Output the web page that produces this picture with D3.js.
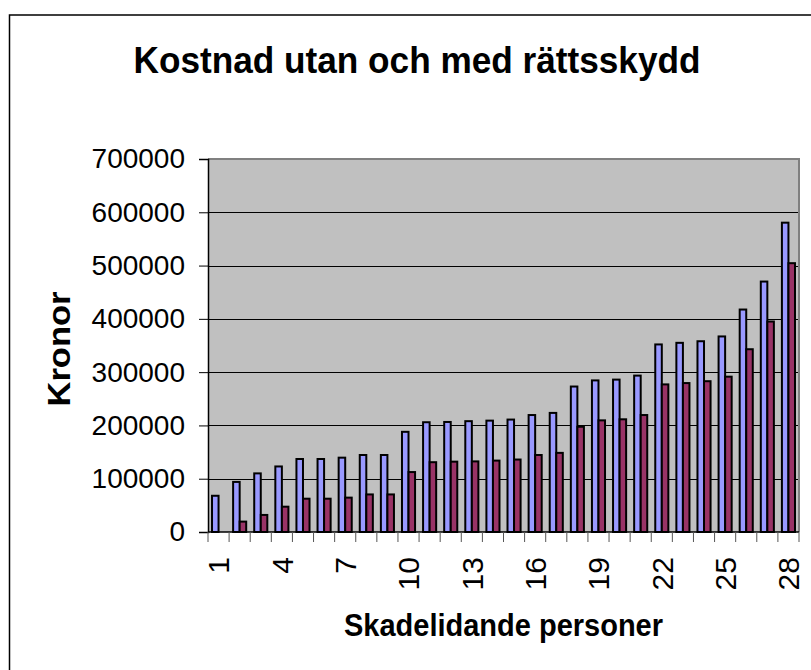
<!DOCTYPE html>
<html lang="sv">
<head>
<meta charset="UTF-8">
<title>Kostnad utan och med rättsskydd</title>
<style>
    body { margin: 0; background: #fff; }
    svg { display: block; font-family: "Liberation Sans", Arial, sans-serif; }
    .grid { stroke: #000; stroke-width: 1; }
    .tick-label { font-size: 28px; fill: #000; }
</style>
</head>
<body>
<svg id="chart" width="811" height="670"></svg>
<script src="https://d3js.org/d3.v7.min.js"></script>
<script>
    // skadelidande personer 1..28
    const persons = d3.range(1, 29);
    // kostnad utan rättsskydd (blå)
    const utan = [68000, 94000, 110000, 123000, 137000, 137000, 139500, 144500, 144500, 188000,
        206000, 206500, 208000, 209000, 211000, 219500, 223500, 273000, 284500, 286000,
        293500, 352000, 355000, 358000, 367000, 417500, 470000, 580500];
    // kostnad med rättsskydd (röd)
    const med = [0, 19500, 32000, 47500, 62500, 62500, 64500, 70500, 70500, 112500,
        131000, 132000, 132500, 134000, 136000, 144500, 148500, 197500, 209500, 211500,
        219500, 277000, 279500, 283000, 291500, 343000, 395000, 504500];
    const yTicks = [0, 100000, 200000, 300000, 400000, 500000, 600000, 700000];
    const xLabels = [1, 4, 7, 10, 13, 16, 19, 22, 25, 28];
    const series = [
        { key: "utan", values: utan, color: "#9999ff" },
        { key: "med", values: med, color: "#993366" }
    ];

    const svg = d3.select("#chart");
    const plot = { left: 208, right: 799, top: 159, bottom: 532 };

    // outer chart border
    svg.append("rect")
        .attr("x", 9.5).attr("y", 15)
        .attr("width", 900).attr("height", 800)
        .attr("fill", "#fff")
        .attr("stroke", "#000")
        .attr("stroke-width", 1.5);

    const x = d3.scaleBand()
        .domain(persons)
        .range([plot.left, plot.right])
        .padding(0);

    const xInner = d3.scaleBand()
        .domain(series.map(s => s.key))
        .range([x.bandwidth() * 0.19, x.bandwidth() * 0.81]);

    const y = d3.scaleLinear()
        .domain([0, 700000])
        .range([plot.bottom, plot.top]);

    // plot area
    svg.append("rect")
        .attr("x", plot.left).attr("y", plot.top)
        .attr("width", plot.right - plot.left)
        .attr("height", plot.bottom - plot.top)
        .attr("fill", "#c0c0c0");

    svg.append("g")
        .selectAll("line")
        .data(yTicks.slice(1, -1))
        .enter().append("line")
        .attr("class", "grid")
        .attr("x1", plot.left).attr("x2", plot.right)
        .attr("y1", d => Math.round(y(d)) + 0.5)
        .attr("y2", d => Math.round(y(d)) + 0.5);

    // gray frame top and right
    svg.append("path")
        .attr("d", `M${plot.left},${plot.top}H${plot.right}V${plot.bottom}`)
        .attr("fill", "none")
        .attr("stroke", "#808080")
        .attr("stroke-width", 2);

    // bars
    series.forEach(s => {
        svg.append("g")
            .selectAll("rect")
            .data(s.values)
            .enter().append("rect")
            .attr("x", (d, i) => x(persons[i]) + xInner(s.key))
            .attr("y", d => y(d))
            .attr("width", xInner.bandwidth())
            .attr("height", d => y(0) - y(d))
            .attr("fill", s.color)
            .attr("stroke", "#000")
            .attr("stroke-width", 2);
    });

    // y axis
    const yAxis = svg.append("g")
        .attr("transform", `translate(${plot.left},0)`)
        .call(d3.axisLeft(y).tickValues(yTicks).tickSize(9).tickPadding(14).tickFormat(d3.format("d")));
    yAxis.select(".domain").attr("stroke", "#000").attr("stroke-width", 1.5);
    yAxis.selectAll(".tick line").attr("stroke", "#000");
    yAxis.selectAll(".tick text")
        .attr("class", "tick-label")
        .attr("font-family", null)
        .attr("font-size", null);

    // x axis: ticks on category boundaries
    svg.append("line")
        .attr("x1", plot.left).attr("x2", plot.right)
        .attr("y1", plot.bottom).attr("y2", plot.bottom)
        .attr("stroke", "#000").attr("stroke-width", 1.5);

    svg.append("g")
        .selectAll("line")
        .data(d3.range(persons.length + 1))
        .enter().append("line")
        .attr("x1", i => plot.left + i * x.step())
        .attr("x2", i => plot.left + i * x.step())
        .attr("y1", plot.bottom)
        .attr("y2", plot.bottom + 10)
        .attr("stroke", "#555");

    svg.append("g")
        .selectAll("text")
        .data(xLabels)
        .enter().append("text")
        .attr("transform", d => `translate(${x(d) + x.bandwidth() / 2},557) rotate(-90)`)
        .attr("text-anchor", "end")
        .attr("dy", "0.36em")
        .attr("font-size", 30)
        .text(d => d);

    // titles
    svg.append("text")
        .attr("x", 417).attr("y", 73)
        .attr("text-anchor", "middle")
        .attr("font-size", 37)
        .attr("font-weight", "bold")
        .attr("textLength", 567)
        .attr("lengthAdjust", "spacingAndGlyphs")
        .text("Kostnad utan och med rättsskydd");

    svg.append("text")
        .attr("x", (plot.left + plot.right) / 2).attr("y", 636)
        .attr("text-anchor", "middle")
        .attr("font-size", 31)
        .attr("font-weight", "bold")
        .attr("textLength", 319)
        .attr("lengthAdjust", "spacingAndGlyphs")
        .text("Skadelidande personer");

    svg.append("text")
        .attr("transform", "translate(70,349) rotate(-90)")
        .attr("text-anchor", "middle")
        .attr("font-size", 32)
        .attr("font-weight", "bold")
        .attr("textLength", 115)
        .attr("lengthAdjust", "spacingAndGlyphs")
        .text("Kronor");
</script>
</body>
</html>
